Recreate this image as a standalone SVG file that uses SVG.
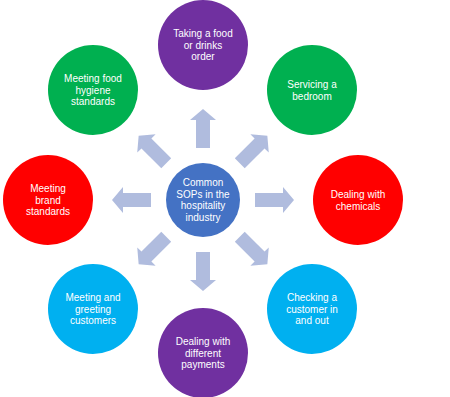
<svg xmlns="http://www.w3.org/2000/svg" width="450" height="397" viewBox="0 0 450 397">
<style>
.t{font-family:"Liberation Sans",Arial,sans-serif;font-size:10px;fill:#fff;text-anchor:middle}
.a{fill:#B0BCDE}
.purple{fill:#7030A0}.green{fill:#00B050}.red{fill:#FF0000}.blue{fill:#00B0F0}.center{fill:#4472C4}
</style>
<defs>
<path id="arr" d="M52,-7 H80 V-13 L91,0 L80,13 V7 H52 Z"/>
</defs>
<rect width="450" height="397" fill="#fff"/>
<g id="connectors" transform="translate(203,200)">
<use href="#arr" class="a" transform="rotate(0)"/>
<use href="#arr" class="a" transform="rotate(45)"/>
<use href="#arr" class="a" transform="rotate(90)"/>
<use href="#arr" class="a" transform="rotate(135)"/>
<use href="#arr" class="a" transform="rotate(180)"/>
<use href="#arr" class="a" transform="rotate(225)"/>
<use href="#arr" class="a" transform="rotate(270)"/>
<use href="#arr" class="a" transform="rotate(315)"/>
</g>
<g id="center">
<circle cx="203" cy="200" r="37" class="center"/>
<text class="t" x="203" y="186">Common</text>
<text class="t" x="203" y="198">SOPs in the</text>
<text class="t" x="203" y="209">hospitality</text>
<text class="t" x="203" y="221">industry</text>
</g>
<g id="n-order">
<circle cx="203" cy="45" r="45" class="purple"/>
<text class="t" x="203" y="37">Taking a food</text>
<text class="t" x="203" y="48.5">or drinks</text>
<text class="t" x="203" y="60">order</text>
</g>
<g id="n-bedroom">
<circle cx="312" cy="90" r="45" class="green"/>
<text class="t" x="312" y="88">Servicing a</text>
<text class="t" x="312" y="99.5">bedroom</text>
</g>
<g id="n-chemicals">
<circle cx="358" cy="200" r="45" class="red"/>
<text class="t" x="358" y="198">Dealing with</text>
<text class="t" x="358" y="209.5">chemicals</text>
</g>
<g id="n-checking">
<circle cx="312" cy="309" r="45" class="blue"/>
<text class="t" x="312" y="301">Checking a</text>
<text class="t" x="312" y="312.5">customer in</text>
<text class="t" x="312" y="324">and out</text>
</g>
<g id="n-payments">
<circle cx="203" cy="353" r="45" class="purple"/>
<text class="t" x="203" y="345">Dealing with</text>
<text class="t" x="203" y="356.5">different</text>
<text class="t" x="203" y="368">payments</text>
</g>
<g id="n-greeting">
<circle cx="93" cy="309" r="45" class="blue"/>
<text class="t" x="93" y="301">Meeting and</text>
<text class="t" x="93" y="312.5">greeting</text>
<text class="t" x="93" y="324">customers</text>
</g>
<g id="n-brand">
<circle cx="48" cy="200" r="45" class="red"/>
<text class="t" x="48" y="192">Meeting</text>
<text class="t" x="48" y="203.5">brand</text>
<text class="t" x="48" y="215">standards</text>
</g>
<g id="n-hygiene">
<circle cx="93" cy="90" r="45" class="green"/>
<text class="t" x="93" y="82">Meeting food</text>
<text class="t" x="93" y="93.5">hygiene</text>
<text class="t" x="93" y="105">standards</text>
</g>
</svg>
